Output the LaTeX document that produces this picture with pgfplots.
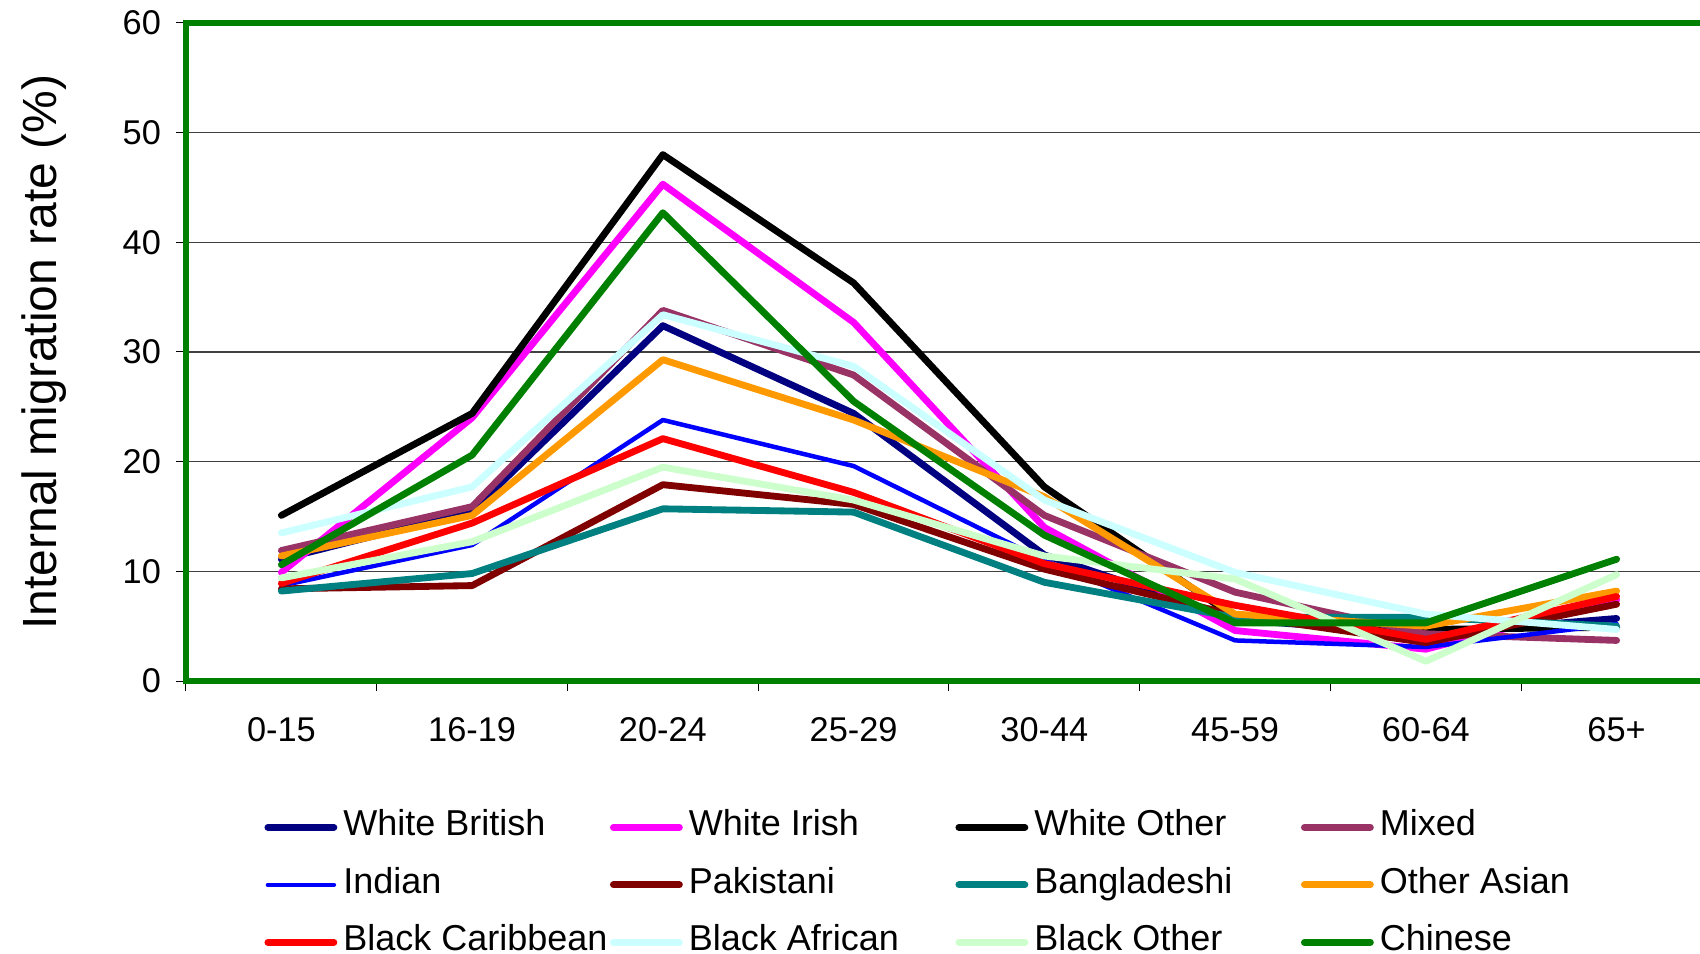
\documentclass[border=0pt]{standalone}
\usepackage{pgfplots}
\pgfplotsset{compat=1.18}
\usepackage{fontspec}
\setmainfont{Liberation Sans}
\usetikzlibrary{calc}
\definecolor{cWB}{RGB}{0,0,128}
\definecolor{cWI}{RGB}{255,0,255}
\definecolor{cWO}{RGB}{0,0,0}
\definecolor{cMX}{RGB}{153,51,102}
\definecolor{cIN}{RGB}{0,0,255}
\definecolor{cPK}{RGB}{128,0,0}
\definecolor{cBD}{RGB}{0,128,128}
\definecolor{cOA}{RGB}{255,153,0}
\definecolor{cBC}{RGB}{255,0,0}
\definecolor{cBA}{RGB}{204,255,255}
\definecolor{cBO}{RGB}{204,255,204}
\definecolor{cCH}{RGB}{0,128,0}
\newcommand{\lb}[1]{\makebox[79.0pt][l]{#1}}
\begin{document}
\begin{tikzpicture}
\begin{axis}[
  scale only axis,
  width=457.8pt, height=197.4pt,
  xmin=-0.5, xmax=7.5, ymin=0, ymax=60,
  xtick={0,...,7},
  xticklabels={0-15,16-19,20-24,25-29,30-44,45-59,60-64,65+},
  minor xtick={-0.5,0.5,1.5,2.5,3.5,4.5,5.5,6.5,7.5},
  major x tick style={draw=none},
  ytick={0,10,...,60},
  tick align=outside,
  major tick length=3pt, minor tick length=3pt,
  tick style={black, line width=0.3pt},
  xtick pos=bottom, ytick pos=left,
  ymajorgrids, grid style={black!75, line width=0.35pt},
  axis line style={draw=cCH, line width=2pt},
  /pgf/number format/assume math mode=true,
  ticklabel style={font=\fontsize{10.3}{12}\selectfont},
  xticklabel style={yshift=-4.4pt},
  yticklabel style={xshift=-1pt},
  ylabel={Internal migration rate (\%)},
  ylabel style={font=\fontsize{14.4}{16}\selectfont, at={(axis description cs:-0.093,0.5)}, anchor=center},
  legend columns=4,
  legend cell align=left,
  legend image code/.code={\draw[#1, line cap=round] (0pt,0pt) -- (19.8pt,0pt);},
  legend style={draw=none, fill=none, inner sep=0pt, at={(axis description cs:0.0510,-0.191)}, anchor=north west,
    font=\fontsize{10.8}{12}\selectfont, row sep=5.25pt,
    nodes={inner sep=1pt, text height=7.5pt, text depth=2.5pt},
    /tikz/every odd column/.append style={column sep=0.8pt}},
  every axis plot/.append style={line width=2.05pt, line join=round, line cap=round},
]
\addplot[cWB] coordinates {(0,11.1) (1,15.5) (2,32.4) (3,24.4) (4,11.5) (5,5.6) (6,4.3) (7,5.7)};
\addlegendentry{\lb{White British}}
\addplot[cWI] coordinates {(0,9.9) (1,24.0) (2,45.3) (3,32.7) (4,14.0) (5,4.6) (6,2.9) (7,7.4)};
\addlegendentry{\lb{White Irish}}
\addplot[cWO] coordinates {(0,15.1) (1,24.4) (2,48.0) (3,36.3) (4,17.7) (5,5.8) (6,4.7) (7,4.9)};
\addlegendentry{\lb{White Other}}
\addplot[cMX] coordinates {(0,11.9) (1,15.9) (2,33.8) (3,27.9) (4,15.1) (5,8.1) (6,4.3) (7,3.7)};
\addlegendentry{Mixed}
\addplot[cIN, line width=1.35pt] coordinates {(0,8.7) (1,12.4) (2,23.8) (3,19.6) (4,11.0) (5,3.7) (6,3.1) (7,5.2)};
\addlegendentry{\lb{Indian}}
\addplot[cPK] coordinates {(0,8.4) (1,8.7) (2,17.9) (3,16.1) (4,10.2) (5,6.0) (6,3.5) (7,7.0)};
\addlegendentry{\lb{Pakistani}}
\addplot[cBD] coordinates {(0,8.2) (1,9.8) (2,15.7) (3,15.4) (4,9.0) (5,5.8) (6,5.8) (7,5.0)};
\addlegendentry{\lb{Bangladeshi}}
\addplot[cOA] coordinates {(0,11.4) (1,15.1) (2,29.3) (3,23.8) (4,16.8) (5,6.1) (6,5.0) (7,8.2)};
\addlegendentry{Other Asian}
\addplot[cBC] coordinates {(0,8.9) (1,14.4) (2,22.1) (3,17.2) (4,10.7) (5,6.9) (6,3.8) (7,7.7)};
\addlegendentry{\lb{Black Caribbean}}
\addplot[cBA] coordinates {(0,13.5) (1,17.7) (2,33.4) (3,28.7) (4,16.5) (5,9.9) (6,6.1) (7,4.7)};
\addlegendentry{\lb{Black African}}
\addplot[cBO] coordinates {(0,9.4) (1,12.7) (2,19.5) (3,16.5) (4,11.4) (5,9.3) (6,1.8) (7,9.7)};
\addlegendentry{\lb{Black Other}}
\addplot[cCH] coordinates {(0,10.6) (1,20.6) (2,42.7) (3,25.5) (4,13.3) (5,5.3) (6,5.3) (7,11.1)};
\addlegendentry{Chinese}
\end{axis}
\pgfresetboundingbox
\path[use as bounding box] ($(current axis.south west)+(-55.8pt,-81.6pt)$) rectangle ($(current axis.south west)+(454.2pt,204.3pt)$);
\end{tikzpicture}
\end{document}
